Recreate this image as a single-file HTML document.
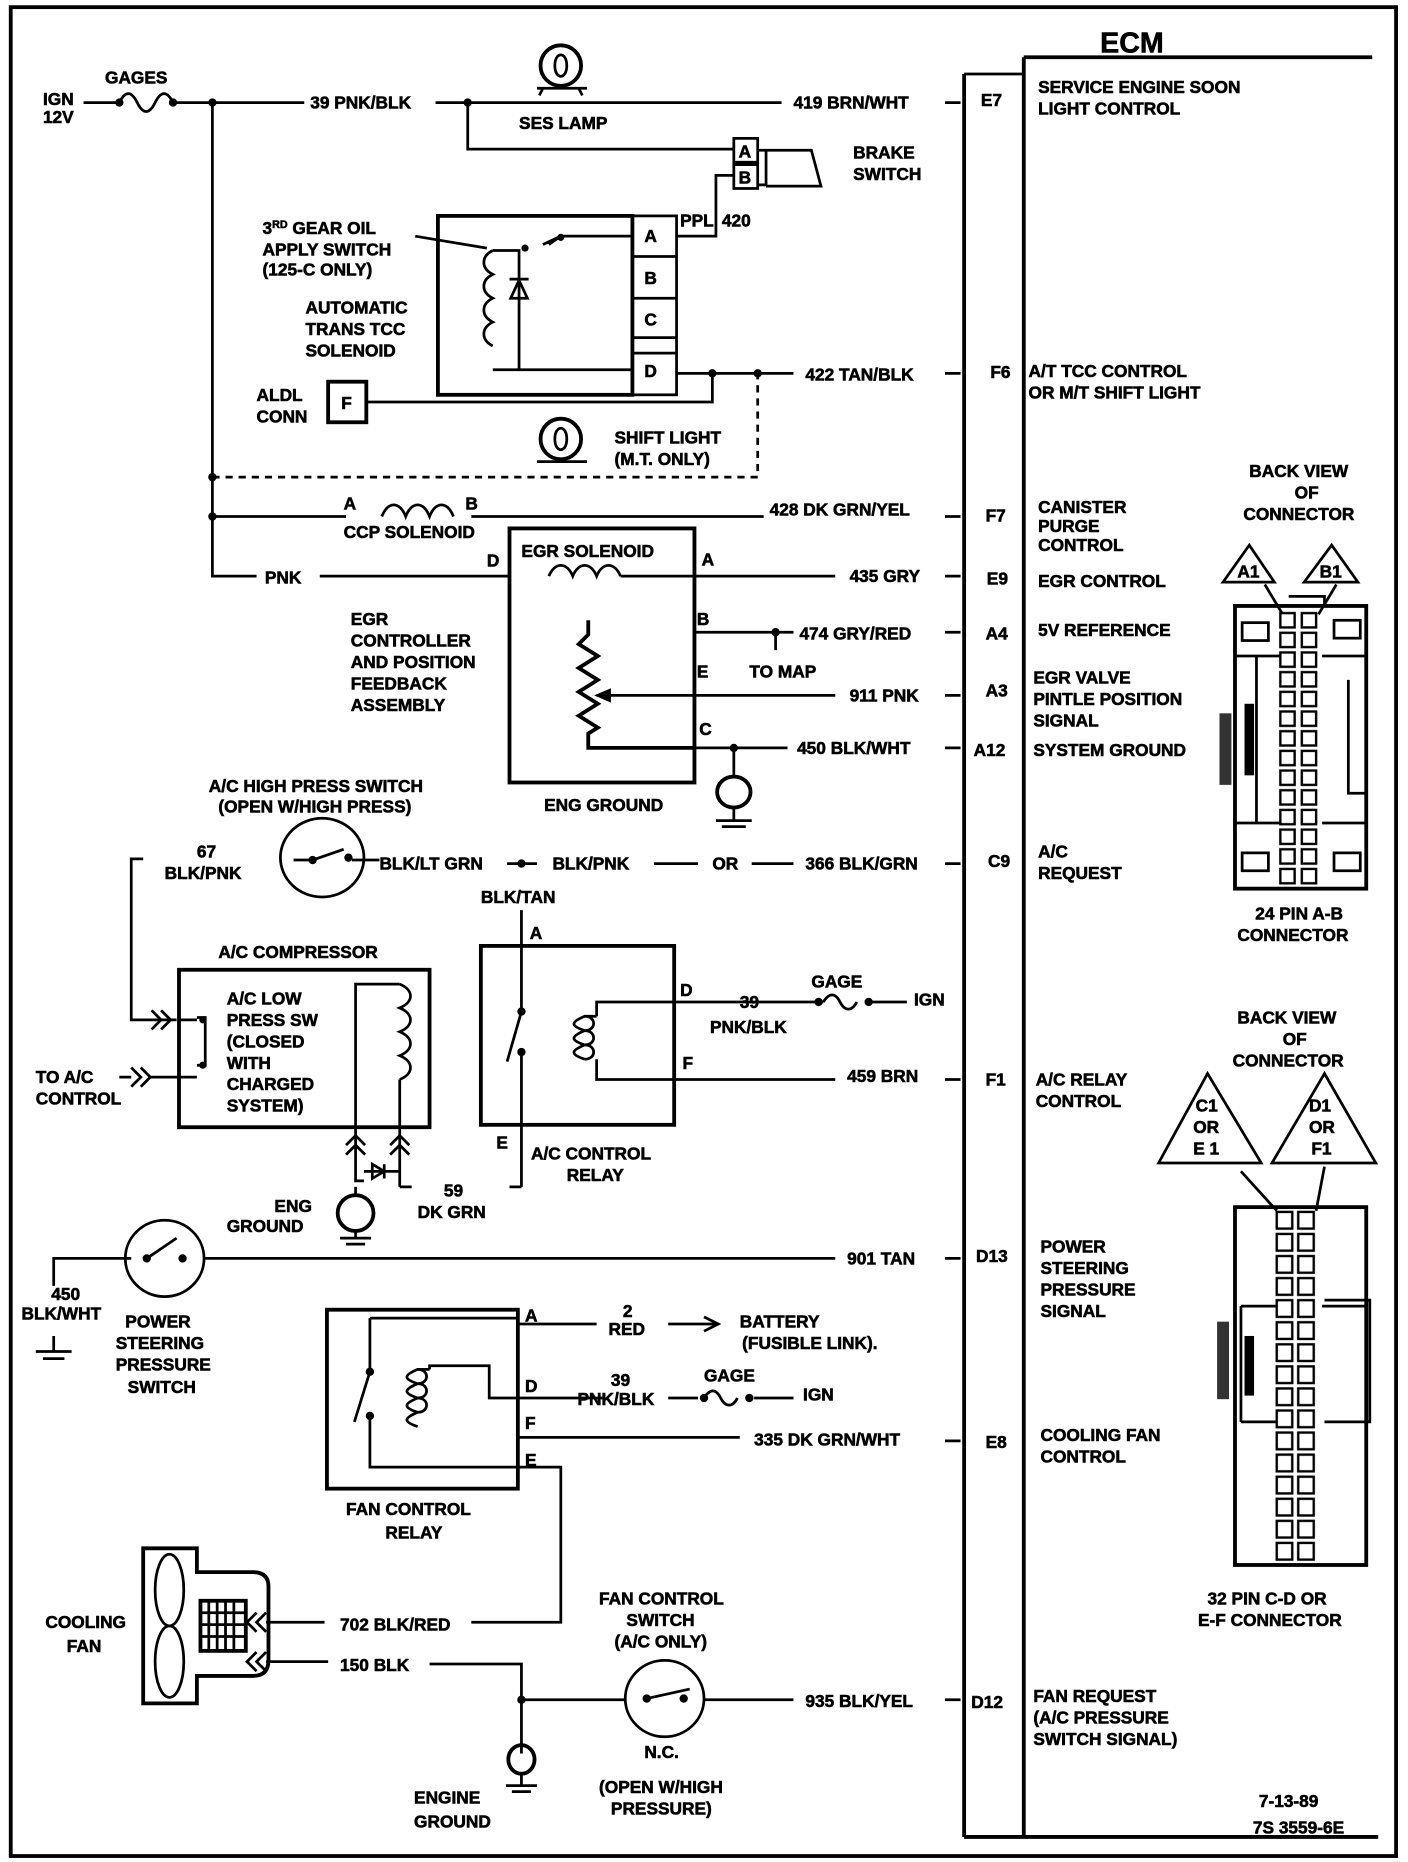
<!DOCTYPE html>
<html><head><meta charset="utf-8"><style>
html,body{margin:0;padding:0;background:#fff}
svg{display:block}
text{font-family:"Liberation Sans",sans-serif;font-weight:bold;font-size:14.5px;fill:#000;stroke:#000;stroke-width:0.5}
.s{stroke:#000;stroke-width:2.3;fill:none}
.t{stroke:#000;stroke-width:3.2;fill:none}
.d{stroke:#000;stroke-width:2.3;fill:none;stroke-dasharray:6,5}
</style></head><body>
<svg width="1408" height="1862" viewBox="0 0 1180 1561" preserveAspectRatio="none" xmlns="http://www.w3.org/2000/svg">
<defs>
<pattern id="pins" x="1071" y="512" width="36" height="16.5" patternUnits="userSpaceOnUse">
<rect x="2" y="2" width="12" height="12" fill="#fff" stroke="#000" stroke-width="2"/>
<rect x="20" y="2" width="12" height="12" fill="#fff" stroke="#000" stroke-width="2"/>
</pattern>
<pattern id="pins2" x="1068" y="1014" width="36" height="18.5" patternUnits="userSpaceOnUse">
<rect x="2" y="2" width="13" height="14" fill="#fff" stroke="#000" stroke-width="2"/>
<rect x="20" y="2" width="13" height="14" fill="#fff" stroke="#000" stroke-width="2"/>
</pattern>
</defs>
<rect x="9" y="6" width="1161" height="1550" class="t"/>
<path class="t" d="M808 62V1540M858 48V1540M858 48H1150M808 1540H1155"/>
<path class="s" d="M808 62H858"/>
<text x="922" y="44" style="font-size:24px">ECM</text>

<text x="36" y="88">IGN</text><text x="36" y="103">12V</text>
<text x="88" y="70">GAGES</text>
<path class="s" d="M70 86H100M100 86c5 -10 10 -10 15 0s10 10 15 0s10-10 15 0M145 86H255M365 86H655M792 86H805"/>
<circle cx="100" cy="86" r="3.5"/><circle cx="145" cy="86" r="3.5"/><circle cx="178" cy="86" r="3.5"/><circle cx="392" cy="86" r="3.5"/>
<text x="260" y="91">39 PNK/BLK</text>
<text x="665" y="91">419 BRN/WHT</text>
<text x="822" y="89">E7</text>
<text x="870" y="78">SERVICE ENGINE SOON</text><text x="870" y="96">LIGHT CONTROL</text>
<circle cx="470" cy="55" r="17" class="t"/><path class="s" d="M465 55c0-12 10-12 10 0s-10 12-10 0M450 74H492M455 74l-3 6M485 74l3 6"/>
<text x="435" y="108">SES LAMP</text>
<path class="s" d="M178 86V483H215"/>
<path class="d" d="M178 400H635V313"/>
<circle cx="178" cy="400" r="3.5"/>
<path class="s" d="M392 86V125H615M600 160V147H615M600 160V198H567"/>
<rect x="615" y="116" width="20" height="20" class="s"/><rect x="615" y="138" width="20" height="20" class="s"/>
<text x="619" y="132">A</text><text x="619" y="154">B</text>
<path class="s" d="M635 126H642V155H635M642 126H680L688 156H642"/>
<text x="715" y="133">BRAKE</text><text x="715" y="151">SWITCH</text>
<text x="570" y="190">PPL</text><text x="605" y="190">420</text>
<rect x="367" y="181" width="163" height="150" class="t"/>
<rect x="530" y="181" width="37" height="150" class="s"/>
<path class="s" d="M530 215H567M530 250H567M530 283H567M530 296H567"/>
<text x="540" y="203">A</text><text x="540" y="238">B</text><text x="540" y="273">C</text><text x="540" y="316">D</text>
<path class="s" d="M530 198H470L455 205M460 205L470 198M413 210c-10 5-10 15 0 20c-10 5-10 15 0 20c-10 5-10 15 0 20c-10 5-10 15 0 20M413 210H435V310M413 310H530M435 235L428 250H442Z"/>
<path class="s" d="M427 234H443M348 198L408 208"/>
<circle cx="440" cy="208" r="3"/><circle cx="470" cy="199" r="3"/>
<text x="220" y="196">3<tspan style="font-size:9px" dy="-5">RD</tspan><tspan dy="5"> GEAR OIL</tspan></text>
<text x="220" y="214">APPLY SWITCH</text><text x="220" y="231">(125-C ONLY)</text>
<text x="256" y="263">AUTOMATIC</text><text x="256" y="281">TRANS TCC</text><text x="256" y="299">SOLENOID</text>
<path class="s" d="M567 313H665M792 313H805M307 337H597V313"/>
<circle cx="597" cy="313" r="3.5"/><circle cx="635" cy="313" r="3.5"/>
<text x="675" y="319">422 TAN/BLK</text><text x="830" y="317">F6</text>
<text x="862" y="316">A/T TCC CONTROL</text><text x="862" y="334">OR M/T SHIFT LIGHT</text>
<rect x="275" y="320" width="32" height="34" class="t"/><text x="286" y="343">F</text>
<text x="215" y="336">ALDL</text><text x="215" y="354">CONN</text>
<circle cx="470" cy="368" r="17" class="t"/><path class="s" d="M465 368c0-12 10-12 10 0s-10 12-10 0M450 387H492"/>
<text x="515" y="372">SHIFT LIGHT</text><text x="515" y="390">(M.T. ONLY)</text>
<path class="s" d="M178 433H290M320 433c5-13 15-13 20 0c5-13 15-13 20 0c5-13 15-13 20 0M395 433H640M792 433H805"/>
<circle cx="178" cy="433" r="3.5"/>
<text x="288" y="427">A</text><text x="390" y="427">B</text>
<text x="288" y="451">CCP SOLENOID</text>
<text x="645" y="432">428 DK GRN/YEL</text><text x="826" y="437">F7</text>
<text x="870" y="430">CANISTER</text><text x="870" y="446">PURGE</text><text x="870" y="462">CONTROL</text>
<text x="222" y="489">PNK</text>
<path class="s" d="M268 483H427"/>
<text x="408" y="475">D</text>
<rect x="427" y="443" width="155" height="213" class="t"/>
<text x="437" y="467">EGR SOLENOID</text>
<path class="s" d="M460 483c5-12 15-12 20 0c5-12 15-12 20 0c5-12 15-12 20 0M520 483H582M582 483H700M792 483H805"/>
<text x="588" y="474">A</text><text x="712" y="488">435 GRY</text><text x="827" y="490">E9</text><text x="870" y="492">EGR CONTROL</text>
<text x="584" y="524">B</text><path class="s" d="M582 530H665M650 530V545M792 530H805"/><circle cx="650" cy="530" r="3.5"/>
<text x="670" y="536">474 GRY/RED</text><text x="826" y="536">A4</text><text x="870" y="533">5V REFERENCE</text>
<text x="628" y="568">TO MAP</text>
<text x="584" y="568">E</text><path class="s" d="M700 583H500M792 583H805"/><path d="M498 583L512 577V589Z"/>
<text x="712" y="588">911 PNK</text><text x="826" y="584">A3</text>
<text x="866" y="573">EGR VALVE</text><text x="866" y="591">PINTLE POSITION</text><text x="866" y="609">SIGNAL</text>
<path class="t" d="M493 520V532L485 540L501 550L485 560L501 570L485 580L501 590L485 600L501 610L493 615V627H582"/>
<text x="586" y="616">C</text><path class="s" d="M582 627H660M615 627V650M792 627H805"/><circle cx="615" cy="627" r="3.5"/>
<text x="668" y="632">450 BLK/WHT</text><text x="816" y="634">A12</text><text x="866" y="634">SYSTEM GROUND</text>
<ellipse cx="615" cy="664" rx="14" ry="13" class="t"/><path class="s" d="M615 677V688M600 688H630M605 693H625"/>
<text x="456" y="680">ENG GROUND</text>
<text x="294" y="524">EGR</text><text x="294" y="542">CONTROLLER</text><text x="294" y="560">AND POSITION</text><text x="294" y="578">FEEDBACK</text><text x="294" y="596">ASSEMBLY</text>
<text x="175" y="664">A/C HIGH PRESS SWITCH</text><text x="183" y="681">(OPEN W/HIGH PRESS)</text>
<ellipse cx="270" cy="719" rx="35" ry="33" class="s"/>
<path class="s" d="M246 721H262M262 721L288 712M295 721H310M318 721H310"/><circle cx="262" cy="721" r="3.5"/><circle cx="292" cy="719" r="3.5"/>
<text x="165" y="719">67</text><text x="138" y="737">BLK/PNK</text>
<text x="318" y="729">BLK/LT GRN</text><path class="s" d="M425 724H450"/><circle cx="437" cy="724" r="3.5"/>
<text x="463" y="729">BLK/PNK</text><path class="s" d="M548 724H585M630 724H665M792 724H805"/>
<text x="597" y="729">OR</text><text x="675" y="729">366 BLK/GRN</text><text x="828" y="727">C9</text>
<text x="870" y="719">A/C</text><text x="870" y="737">REQUEST</text>
<path class="s" d="M120 720H110V855H148M127 847l8 8-8 8M135 847l8 8-8 8"/>
<text x="183" y="803">A/C COMPRESSOR</text>
<rect x="150" y="813" width="210" height="132" class="t"/>
<path class="s" d="M165 853H172V893H165M100 903H110M110 895l8 8-8 8M118 895l8 8-8 8M126 903H150M150 855H165M150 903H165"/>
<circle cx="170" cy="855" r="3"/><circle cx="170" cy="893" r="3"/>
<text x="190" y="842">A/C LOW</text><text x="190" y="860">PRESS SW</text><text x="190" y="878">(CLOSED</text><text x="190" y="896">WITH</text><text x="190" y="914">CHARGED</text><text x="190" y="932">SYSTEM)</text>
<path class="s" d="M298 945V825H335M335 825c12 5 12 15 0 20c12 5 12 15 0 20c12 5 12 15 0 20c12 5 12 15 0 20M335 905V945"/>
<text x="30" y="908">TO A/C</text><text x="30" y="926">CONTROL</text>
<path class="s" d="M298 945V990H305M335 945V995M290 960l8-8 8 8M290 968l8-8 8 8M327 960l8-8 8 8M327 968l8-8 8 8M305 982H335M312 976L322 982L312 988Z"/>
<path class="s" d="M322 976V988"/>
<circle cx="298" cy="1017" r="15" class="t"/><path class="s" d="M298 995V1002M298 1032V1038M285 1038H311M290 1043H306"/>
<text x="230" y="1016">ENG</text><text x="190" y="1033">GROUND</text>
<text x="372" y="1003">59</text><text x="350" y="1021">DK GRN</text>
<path class="s" d="M335 995H345"/>
<text x="403" y="757">BLK/TAN</text><text x="444" y="787">A</text>
<rect x="403" y="793" width="162" height="150" class="t"/>
<path class="s" d="M437 763V848M437 848L425 890M437 880V995M437 995H427"/>
<circle cx="437" cy="848" r="3.5"/><circle cx="437" cy="882" r="3.5"/>
<path class="s" d="M500 852H490c-12 5-12 8 0 12c-12 5-12 8 0 12c-12 5-12 8 0 12M490 852c10 0 10 12 0 12M490 864c10 0 10 12 0 12M490 876c10 0 10 12 0 12"/>
<path class="s" d="M500 852V840H565M500 888V905H565M565 840H690M730 840H760M565 905H700M792 905H805"/>
<circle cx="686" cy="840" r="3.5"/><circle cx="728" cy="840" r="3.5"/><path class="s" d="M690 840c5-8 10-8 14 0s10 8 14 0"/>
<text x="570" y="835">D</text><text x="572" y="896">F</text><text x="416" y="963">E</text>
<text x="620" y="845">39</text><text x="595" y="866">PNK/BLK</text><text x="680" y="828">GAGE</text><text x="766" y="843">IGN</text>
<text x="710" y="907">459 BRN</text><text x="826" y="910">F1</text><text x="868" y="910">A/C RELAY</text><text x="868" y="928">CONTROL</text>
<text x="445" y="972">A/C CONTROL</text><text x="475" y="990">RELAY</text>
<path class="s" d="M45 1078V1055H110M170 1055H700M792 1055H805"/>
<ellipse cx="138" cy="1055" rx="33" ry="32" class="s"/><circle cx="123" cy="1055" r="3.5"/><circle cx="153" cy="1055" r="3.5"/><path class="s" d="M123 1055L148 1038"/>
<text x="710" y="1060">901 TAN</text><text x="818" y="1058">D13</text>
<text x="872" y="1050">POWER</text><text x="872" y="1068">STEERING</text><text x="872" y="1086">PRESSURE</text><text x="872" y="1104">SIGNAL</text>
<text x="43" y="1090">450</text><text x="18" y="1106">BLK/WHT</text><path class="s" d="M45 1120V1133M30 1133H60M36 1139H54"/>
<text x="105" y="1113">POWER</text><text x="97" y="1131">STEERING</text><text x="97" y="1149">PRESSURE</text><text x="107" y="1168">SWITCH</text>
<rect x="274" y="1098" width="160" height="150" class="t"/>
<path class="s" d="M310 1105H434V1110M310 1105V1150M310 1150L297 1192M310 1185V1230H434"/>
<circle cx="310" cy="1150" r="3.5"/><circle cx="310" cy="1187" r="3.5"/>
<path class="s" d="M360 1148H350c-12 5-12 8 0 12c-12 5-12 8 0 12c-12 5-12 8 0 12c-12 5-12 8 0 12M350 1148c10 0 10 12 0 12M350 1160c10 0 10 12 0 12M350 1172c10 0 10 12 0 12M360 1148V1145H410V1172H434M434 1110H500M560 1110H600M590 1104L602 1110L590 1116M434 1172H505M560 1172H585M434 1205H620M792 1208H805M434 1230H470V1360H395"/>
<circle cx="590" cy="1172" r="3.5"/><circle cx="628" cy="1172" r="3.5"/><path class="s" d="M590 1172c5-8 10-8 14 0s10 8 14 0M632 1172H665"/>
<text x="440" y="1108">A</text><text x="440" y="1167">D</text><text x="440" y="1198">F</text><text x="440" y="1229">E</text>
<text x="522" y="1104">2</text><text x="510" y="1119">RED</text>
<text x="620" y="1113">BATTERY</text><text x="622" y="1131">(FUSIBLE LINK).</text>
<text x="512" y="1162">39</text><text x="484" y="1178">PNK/BLK</text><text x="590" y="1158">GAGE</text><text x="673" y="1174">IGN</text>
<text x="632" y="1212">335 DK GRN/WHT</text><text x="826" y="1214">E8</text>
<text x="872" y="1208">COOLING FAN</text><text x="872" y="1226">CONTROL</text>
<text x="290" y="1270">FAN CONTROL</text><text x="323" y="1290">RELAY</text>
<path class="t" d="M120 1298H165V1318H212Q225 1318 225 1330V1392Q225 1405 212 1405H165V1428H120Z"/>
<ellipse cx="142" cy="1333" rx="12" ry="30" class="s"/><ellipse cx="142" cy="1393" rx="12" ry="30" class="s"/>
<rect x="168" y="1342" width="38" height="42" class="t"/><path class="s" d="M175 1342V1384M182 1342V1384M189 1342V1384M196 1342V1384M168 1352H206M168 1362H206M168 1372H206"/>
<path class="s" d="M215 1352l-8 8 8 8M223 1352l-8 8 8 8M215 1385l-8 8 8 8M223 1385l-8 8 8 8M223 1360H272M223 1393H275"/>
<text x="38" y="1365">COOLING</text><text x="56" y="1385">FAN</text>
<text x="285" y="1367">702 BLK/RED</text><text x="285" y="1401">150 BLK</text>
<path class="s" d="M360 1395H437V1470M437 1425H525M590 1425H665M792 1425H805"/><circle cx="437" cy="1425" r="3.5"/>
<ellipse cx="437" cy="1475" rx="11" ry="12" class="t"/><path class="s" d="M437 1487V1497M424 1497H450M429 1502H445"/>
<text x="347" y="1512">ENGINE</text><text x="347" y="1532">GROUND</text>
<ellipse cx="557" cy="1424" rx="33" ry="32" class="s"/><circle cx="542" cy="1424" r="3.5"/><circle cx="573" cy="1424" r="3.5"/><path class="s" d="M542 1424L578 1416"/>
<text x="502" y="1345">FAN CONTROL</text><text x="525" y="1363">SWITCH</text><text x="515" y="1381">(A/C ONLY)</text>
<text x="540" y="1474">N.C.</text><text x="502" y="1503">(OPEN W/HIGH</text><text x="512" y="1521">PRESSURE)</text>
<text x="675" y="1431">935 BLK/YEL</text><text x="814" y="1432">D12</text>
<text x="866" y="1427">FAN REQUEST</text><text x="866" y="1445">(A/C PRESSURE</text><text x="866" y="1463">SWITCH SIGNAL)</text>
<text x="1055" y="1515">7-13-89</text><text x="1050" y="1537">7S 3559-6E</text>
<text x="1047" y="400">BACK VIEW</text><text x="1085" y="418">OF</text><text x="1042" y="436">CONNECTOR</text>
<path class="s" d="M1047 457L1025 488H1068ZM1116 457L1093 488H1138Z"/>
<text x="1037" y="484">A1</text><text x="1106" y="484">B1</text>
<path class="s" d="M1060 490L1075 515M1120 490L1105 515"/>
<rect x="1035" y="508" width="110" height="237" class="t"/>
<path class="s" d="M1035 550H1073M1108 550H1145M1035 690H1073M1108 690H1145M1053 550V690M1130 570V665H1145M1080 500H1110V508"/>
<rect x="1041" y="522" width="22" height="15" class="s"/><rect x="1118" y="520" width="22" height="15" class="s"/>
<rect x="1041" y="715" width="22" height="15" class="s"/><rect x="1118" y="715" width="22" height="15" class="s"/>
<rect x="1071" y="512" width="36" height="232" fill="url(#pins)"/>
<rect x="1022" y="598" width="10" height="60" fill="#333"/>
<rect x="1043" y="590" width="8" height="60" fill="#000"/>
<text x="1052" y="771">24 PIN  A-B</text><text x="1037" y="789">CONNECTOR</text>
<text x="1037" y="858">BACK VIEW</text><text x="1075" y="876">OF</text><text x="1033" y="894">CONNECTOR</text>
<path class="s" d="M1012 900L971 975H1057ZM1110 900L1066 975H1153Z"/>
<text x="1002" y="932">C1</text><text x="1000" y="950">OR</text><text x="1000" y="968">E 1</text>
<text x="1097" y="932">D1</text><text x="1097" y="950">OR</text><text x="1099" y="968">F1</text>
<path class="s" d="M1040 982L1070 1015M1110 978L1103 1015"/>
<rect x="1035" y="1012" width="110" height="300" class="t"/>
<path class="s" d="M1040 1095H1070M1108 1095H1145M1110 1090H1148V1192H1110M1040 1192H1070M1040 1095V1192"/>
<rect x="1068" y="1014" width="36" height="296" fill="url(#pins2)"/>
<rect x="1020" y="1108" width="10" height="65" fill="#333"/>
<rect x="1043" y="1120" width="8" height="50" fill="#000"/>
<text x="1012" y="1345">32 PIN C-D OR</text><text x="1004" y="1363">E-F  CONNECTOR</text>
</svg>
</body></html>
